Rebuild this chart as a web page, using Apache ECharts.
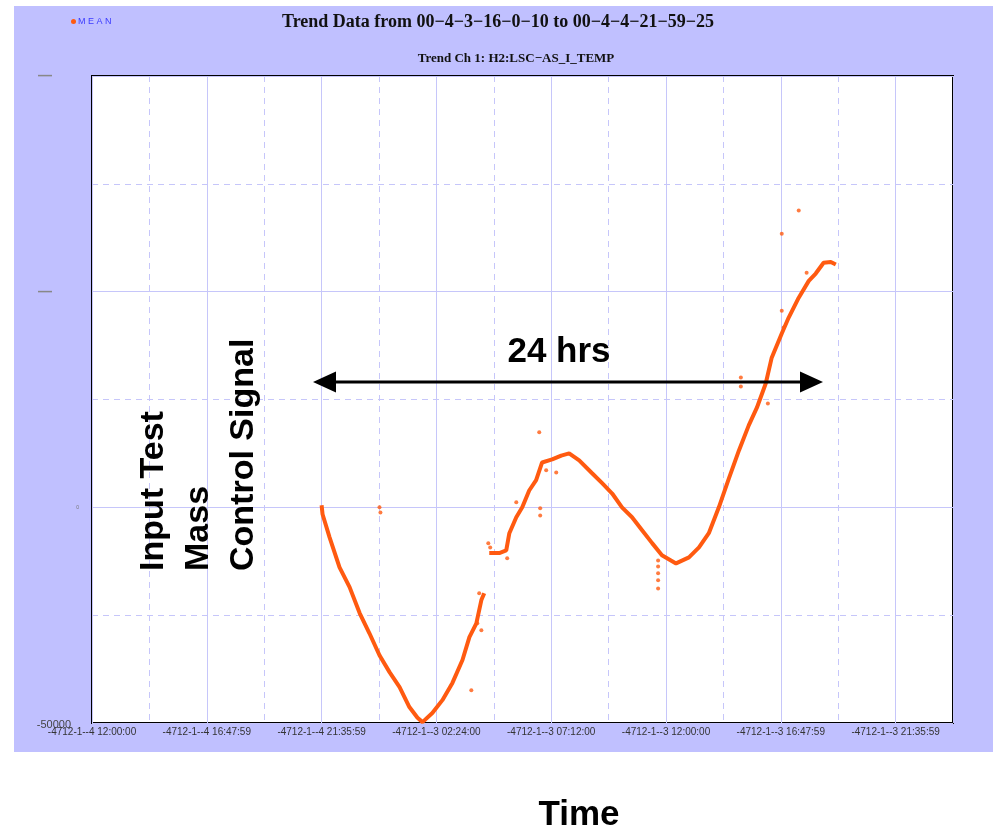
<!DOCTYPE html>
<html>
<head>
<meta charset="utf-8">
<script src="https://cdn.jsdelivr.net/npm/echarts@6/dist/echarts.min.js"></script>
<style>
  html, body { margin: 0; padding: 0; background: #ffffff; }
  #bg { position: absolute; left: 14px; top: 6px; width: 979px; height: 746px; background: #C0C0FF; }
  #chart { position: absolute; left: 0; top: 0; width: 996px; height: 832px; }
</style>
</head>
<body>
<div id="bg"></div>
<div id="chart"></div>
<script>
// ---- data (x in hours from axis start, y in signal units) ----
const xTickLabels = [
  '-4712-1--4 12:00:00', '-4712-1--4 16:47:59', '-4712-1--4 21:35:59', '-4712-1--3 02:24:00',
  '-4712-1--3 07:12:00', '-4712-1--3 12:00:00', '-4712-1--3 16:47:59', '-4712-1--3 21:35:59'
];
const yTickValues = [-50000, 0, 50000, 100000];
const yTickLabels = ['-50000', '0', '\u2014', '\u2014'];

const meanCurveA = [
  [9.60, 500], [9.64, -1600], [9.93, -6900], [10.35, -13900], [10.77, -18500], [11.19, -24500],
  [11.60, -29200], [12.02, -34300], [12.44, -38200], [12.86, -41700], [13.27, -46300], [13.61, -48800],
  [13.82, -49800], [14.23, -47700], [14.65, -44700], [15.07, -40700], [15.49, -35400], [15.78, -30100],
  [16.07, -26900], [16.28, -21500], [16.40, -19900]
];
const meanCurveB = [
  [16.61, -10600], [17.03, -10600], [17.32, -10000], [17.45, -6000], [17.74, -2300], [17.99, 0],
  [18.28, 3900], [18.57, 6300], [18.82, 10400], [19.24, 11100], [19.62, 12000], [19.95, 12500],
  [20.37, 10900], [20.91, 7900], [21.33, 5600], [21.75, 3200], [22.16, 0], [22.58, -2300],
  [23.00, -5300], [23.42, -8300], [23.83, -11100], [24.42, -13000], [24.96, -11600], [25.38, -9300],
  [25.79, -6000], [26.21, 0], [26.63, 6700], [27.05, 13200], [27.46, 19000], [27.80, 23100],
  [28.17, 28700], [28.42, 34700], [28.84, 40300], [29.13, 44000], [29.55, 48600], [29.97, 52500],
  [30.26, 54200], [30.59, 56700], [30.89, 56900], [31.10, 56300]
];
const meanOutliers = [
  [12.02, 0], [12.06, -1200], [15.86, -42400], [16.19, -19900], [16.11, -26900], [16.28, -28500],
  [16.57, -8300], [16.65, -9300], [17.36, -11800], [17.74, 1200], [18.70, 17400], [18.74, -200],
  [18.74, -1900], [18.99, 8600], [19.41, 8100], [23.67, -12300], [23.67, -13700], [23.67, -15300],
  [23.67, -16900], [23.67, -18800], [27.13, 30100], [27.13, 28000], [28.26, 24100], [28.84, 45600],
  [28.92, 41700], [29.88, 54400], [28.84, 63400], [29.55, 68800]
];

const ORANGE = '#FF5A10';
const GRID = '#C6C6FA';

const chart = echarts.init(document.getElementById('chart'), null, { renderer: 'canvas' });

const xCommon = { type: 'value', min: 0, max: 36, axisLine: { show: false }, axisTick: { show: false } };
const yCommon = { type: 'value', min: -50000, max: 100000, axisLine: { show: false }, axisTick: { show: false } };

const option = {
  backgroundColor: 'transparent',
  animation: false,
  title: {
    text: 'Trend Data from 00\u22124\u22123\u221216\u22120\u221210 to 00\u22124\u22124\u221221\u221259\u221225',
    left: 'center', top: 8,
    textStyle: { fontFamily: 'Liberation Serif', fontWeight: 'bold', fontSize: 18, color: '#111' }
  },
  legend: {
    data: ['MEAN'], left: 66, top: 12, icon: 'circle', itemWidth: 5, itemHeight: 5, itemGap: 2,
    formatter: function () { return 'M E A N'; },
    textStyle: { color: '#3a3aff', fontSize: 9, fontFamily: 'Liberation Sans', padding: [0, 0, 0, -3] }
  },
  grid: { left: 92, top: 76, right: 43, bottom: 109, show: true, backgroundColor: '#ffffff', borderColor: '#000', borderWidth: 2 },
  xAxis: [
    Object.assign({}, xCommon, {
      interval: 4.8,
      splitLine: { show: true, lineStyle: { color: GRID, width: 1 } },
      axisLabel: {
        margin: 4, fontSize: 10, color: '#333', fontFamily: 'Liberation Sans', showMaxLabel: false,
        formatter: function (v) { const i = Math.round(v / 4.8); return (Math.abs(v - i * 4.8) < 1e-6 && xTickLabels[i]) ? xTickLabels[i] : ''; }
      }
    }),
    Object.assign({}, xCommon, {
      interval: 2.4,
      splitLine: { show: true, lineStyle: { color: GRID, width: 1, type: [6, 5] } },
      axisLabel: { show: false }
    })
  ],
  yAxis: [
    Object.assign({}, yCommon, {
      interval: 50000,
      splitLine: { show: true, lineStyle: { color: GRID, width: 1 } },
      axisLabel: {
        margin: 13,
        formatter: function (v) {
          const i = yTickValues.indexOf(v);
          if (i < 0) return '';
          const t = yTickLabels[i];
          if (v === 0) return '{z|' + t + '}';
          if (v < 0) return '{n|' + t + '}';
          return '{d|' + t + '}';
        },
        rich: {
          z: { fontSize: 5, color: '#777', fontFamily: 'Liberation Sans' },
          n: { fontSize: 11, color: '#444', fontFamily: 'Liberation Sans', padding: [4, 8, 0, 0] },
          d: { fontSize: 14, color: '#888', fontFamily: 'Liberation Sans', fontWeight: 'bold', padding: [0, 27, 0, 0] }
        }
      }
    }),
    Object.assign({}, yCommon, {
      interval: 25000,
      splitLine: { show: true, lineStyle: { color: GRID, width: 1, type: [6, 5] } },
      axisLabel: { show: false }
    })
  ],
  series: [
    { name: 'MEAN', type: 'line', xAxisIndex: 0, yAxisIndex: 0, data: meanCurveA, showSymbol: false, symbol: 'circle',
      lineStyle: { color: ORANGE, width: 4 }, itemStyle: { color: ORANGE }, z: 5 },
    { name: 'MEAN', type: 'line', xAxisIndex: 0, yAxisIndex: 0, data: meanCurveB, showSymbol: false, symbol: 'circle',
      lineStyle: { color: ORANGE, width: 4 }, itemStyle: { color: ORANGE }, z: 5 },
    { name: 'MEAN', type: 'scatter', xAxisIndex: 0, yAxisIndex: 0, data: meanOutliers, symbol: 'circle', symbolSize: 4,
      itemStyle: { color: ORANGE }, z: 5 }
  ],
  graphic: [
    { type: 'text', x: 516, y: 59, z: 10,
      style: { text: 'Trend Ch 1: H2:LSC\u2212AS_I_TEMP', align: 'center', verticalAlign: 'middle',
        font: 'bold 13px "Liberation Serif"', fill: '#111' } },
    { type: 'text', x: 559, y: 352, z: 10,
      style: { text: '24 hrs', align: 'center', verticalAlign: 'middle', font: 'bold 35px "Liberation Sans"', fill: '#000' } },
    { type: 'text', x: 579, y: 815, z: 10,
      style: { text: 'Time', align: 'center', verticalAlign: 'middle', font: 'bold 35px "Liberation Sans"', fill: '#000' } },
    { type: 'text', x: 131, y: 571, rotation: Math.PI / 2, z: 10,
      style: { text: 'Input Test\nMass\nControl Signal', align: 'left', verticalAlign: 'top', lineHeight: 45,
        font: 'bold 34px "Liberation Sans"', fill: '#000' } },
    { type: 'line', z: 10, shape: { x1: 330, y1: 382, x2: 806, y2: 382 }, style: { stroke: '#000', lineWidth: 3 } },
    { type: 'polygon', z: 10, shape: { points: [[313, 382], [336, 371.5], [336, 392.5]] }, style: { fill: '#000' } },
    { type: 'polygon', z: 10, shape: { points: [[823, 382], [800, 371.5], [800, 392.5]] }, style: { fill: '#000' } }
  ]
};
chart.setOption(option);
</script>
</body>
</html>
